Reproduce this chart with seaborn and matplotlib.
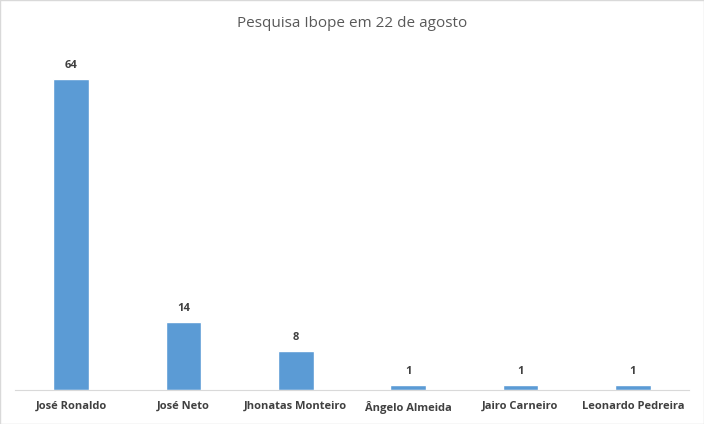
import matplotlib
matplotlib.use("Agg")
import matplotlib.pyplot as plt
import seaborn as sns
import pandas as pd

candidatos = ["José Ronaldo", "José Neto", "Jhonatas Monteiro", "Ângelo Almeida", "Jairo Carneiro", "Leonardo Pedreira"]
votos = [64, 14, 8, 1, 1, 1]

df = pd.DataFrame({"candidato": candidatos, "votos": votos})

sns.set_style("white")
plt.rcParams["font.family"] = ["Open Sans", "DejaVu Sans"]

fig = plt.figure(figsize=(7.04, 4.24), dpi=100)
ax = fig.add_axes([15 / 704, 0.08, 674 / 704, 0.802])
sns.barplot(data=df, x="candidato", y="votos", color="#5b9bd5", width=0.32, saturation=1, ax=ax)
for c in ax.containers:
    ax.bar_label(c, padding=6, fontsize=8, fontweight="bold", color="#404040")

ax.set_ylim(0, 70)
ax.set_xlim(-0.5, 5.5)
ax.set_yticks([])
ax.set_xlabel("")
ax.set_ylabel("")
ax.tick_params(axis="x", length=0, labelsize=8, colors="#404040", pad=8)
for lbl in ax.get_xticklabels():
    lbl.set_fontweight("bold")
for s in ["top", "left", "right"]:
    ax.spines[s].set_visible(False)
ax.spines["bottom"].set_color("#d9d9d9")
fig.text(0.5, 0.945, "Pesquisa Ibope em 22 de agosto", ha="center", va="center", fontsize=11, color="#595959")
fig.patches.append(plt.Rectangle((0, 0), 1, 1, transform=fig.transFigure, fill=False, edgecolor="#d9d9d9", lw=1))

fig.savefig("out.png", dpi=100)
